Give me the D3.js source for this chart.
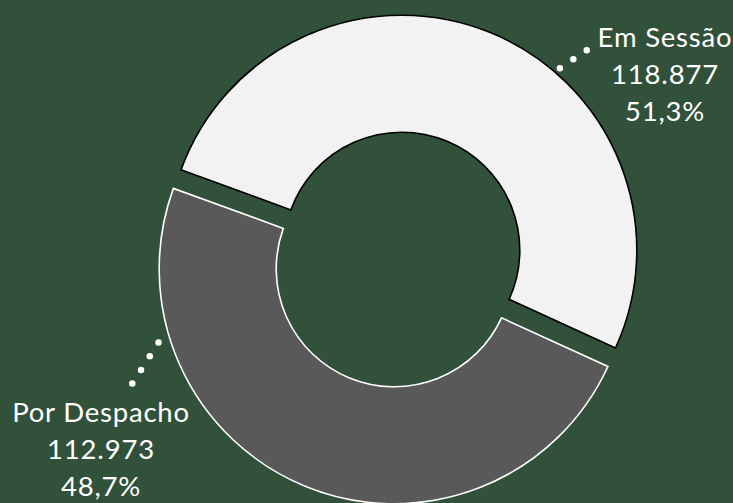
<!DOCTYPE html>
<html>
<head>
<meta charset="utf-8">
<script src="https://cdn.jsdelivr.net/npm/d3@7"></script>
<style>
  html, body { margin: 0; padding: 0; background: #31513a; }
  svg { display: block; }
  text { font-family: Lato, "Open Sans", sans-serif; fill: #ffffff; }
</style>
</head>
<body>
<svg width="733" height="503"></svg>
<script>
// data
const categories = ["Em Sessão", "Por Despacho"];
const values = [118877, 112973];
const fills = ["#f2f2f2", "#595959"];
const strokes = ["#000000", "#ffffff"];

// label layout (text center x, first baseline y) and leader dots
const labelPos = [[665, 47], [101, 422]];
const leaderAngle = [41, 252.6];      // degrees, where the leader leaves the slice
const leaderGap = [6, 12];
const leaderEnd = [[587, 50], [132, 384]];

const svg = d3.select("svg"),
    width = +svg.attr("width"),
    height = +svg.attr("height");

const cx = 398, cy = 259.5,
    outerR = 235, innerR = 118,
    explode = 10;

const ptBR = d3.formatLocale({ decimal: ",", thousands: ".", grouping: [3], currency: ["R$", ""] });
const fmtNum = ptBR.format(",d");
const fmtPct = ptBR.format(".1%");

const total = d3.sum(values);
const rad = d => d * Math.PI / 180;

const pie = d3.pie()
    .sort(null)
    .startAngle(rad(290))
    .endAngle(rad(290 + 360));

const arc = d3.arc()
    .innerRadius(innerR)
    .outerRadius(outerR);

const arcs = pie(values);

// centre of each exploded slice
const sliceCenter = d => {
    const mid = (d.startAngle + d.endAngle) / 2;
    return [cx + explode * Math.sin(mid), cy - explode * Math.cos(mid)];
};

const g = svg.append("g");

g.selectAll(".slice")
    .data(arcs)
    .enter().append("path")
    .attr("class", "slice")
    .attr("transform", d => "translate(" + sliceCenter(d) + ")")
    .attr("d", arc)
    .attr("fill", (d, i) => fills[i])
    .attr("stroke", (d, i) => strokes[i])
    .attr("stroke-width", 1.6)
    .attr("stroke-linejoin", "miter");

// dotted leaders
g.selectAll(".leader")
    .data(arcs)
    .enter().append("line")
    .attr("class", "leader")
    .attr("x1", (d, i) => sliceCenter(d)[0] + (outerR + leaderGap[i]) * Math.sin(rad(leaderAngle[i])))
    .attr("y1", (d, i) => sliceCenter(d)[1] - (outerR + leaderGap[i]) * Math.cos(rad(leaderAngle[i])))
    .attr("x2", (d, i) => leaderEnd[i][0])
    .attr("y2", (d, i) => leaderEnd[i][1])
    .attr("stroke", "#ffffff")
    .attr("stroke-width", 6.5)
    .attr("stroke-linecap", "round")
    .attr("stroke-dasharray", "0 16.2");

// labels
const label = g.selectAll(".label")
    .data(arcs)
    .enter().append("text")
    .attr("class", "label")
    .attr("text-anchor", "middle")
    .attr("font-size", 27.5)
    .attr("letter-spacing", 0.8);

label.each(function (d, i) {
    const t = d3.select(this);
    const lines = [categories[i], fmtNum(values[i]), fmtPct(values[i] / total)];
    lines.forEach((s, k) => {
        t.append("tspan")
            .attr("x", labelPos[i][0])
            .attr("y", labelPos[i][1] + k * 37)
            .text(s);
    });
});
</script>
</body>
</html>
